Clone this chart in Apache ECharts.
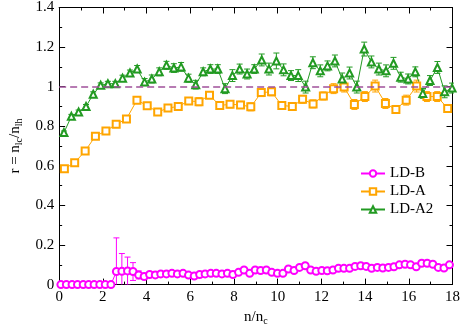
<!DOCTYPE html>
<html>
<head>
<meta charset="utf-8">
<script src="https://cdn.jsdelivr.net/npm/echarts@6/dist/echarts.min.js"></script>
<style>
  html, body { margin: 0; padding: 0; background: #fff; }
  #chart { width: 463px; height: 331px; }
</style>
</head>
<body>
<div id="chart"></div>
<script>
// LD-B (magenta circles)
const xB = [0.08, 0.33, 0.59, 0.84, 1.10, 1.35, 1.60, 1.86, 2.11, 2.37,
  2.62, 2.87, 3.13, 3.38, 3.64, 3.89, 4.14, 4.40, 4.65, 4.91,
  5.16, 5.41, 5.67, 5.92, 6.18, 6.43, 6.68, 6.94, 7.19, 7.45,
  7.70, 7.95, 8.21, 8.46, 8.72, 8.97, 9.22, 9.48, 9.73, 9.99,
  10.24, 10.49, 10.75, 11.00, 11.26, 11.51, 11.76, 12.02, 12.27, 12.53,
  12.78, 13.03, 13.29, 13.54, 13.80, 14.05, 14.30, 14.56, 14.81, 15.07,
  15.32, 15.57, 15.83, 16.08, 16.34, 16.59, 16.84, 17.10, 17.35, 17.61,
  17.86];
const yB = [0, 0, 0, 0, 0, 0, 0, 0, 0, 0,
  0.066, 0.067, 0.069, 0.066, 0.049, 0.041, 0.051, 0.049, 0.054, 0.054,
  0.057, 0.054, 0.057, 0.048, 0.043, 0.051, 0.054, 0.057, 0.057, 0.054,
  0.057, 0.051, 0.062, 0.074, 0.057, 0.074, 0.071, 0.074, 0.062, 0.057,
  0.057, 0.079, 0.071, 0.087, 0.095, 0.074, 0.067, 0.071, 0.070, 0.074,
  0.082, 0.082, 0.082, 0.092, 0.095, 0.092, 0.082, 0.087, 0.084, 0.087,
  0.090, 0.100, 0.103, 0.100, 0.090, 0.108, 0.108, 0.103, 0.087, 0.084,
  0.100];
const eB = [0, 0, 0, 0, 0, 0, 0, 0, 0, 0,
  0.17, 0.09, 0.07, 0.045, 0.02, 0.012, 0.005, 0.005, 0.005, 0.005,
  0.005, 0.005, 0.005, 0.005, 0.005, 0.005, 0.005, 0.005, 0.005, 0.005,
  0.005, 0.005, 0.005, 0.005, 0.005, 0.005, 0.005, 0.005, 0.005, 0.005,
  0.005, 0.005, 0.005, 0.005, 0.005, 0.005, 0.005, 0.005, 0.005, 0.005,
  0.005, 0.005, 0.005, 0.005, 0.005, 0.005, 0.005, 0.005, 0.005, 0.005,
  0.005, 0.005, 0.005, 0.005, 0.005, 0.012, 0.012, 0.01, 0.005, 0.005,
  0.005];

// LD-A (orange squares)
const xA = [0.24, 0.71, 1.19, 1.66, 2.14, 2.61, 3.08, 3.56, 4.03, 4.51,
  4.98, 5.45, 5.93, 6.40, 6.88, 7.35, 7.82, 8.30, 8.77, 9.25,
  9.72, 10.19, 10.67, 11.14, 11.62, 12.09, 12.56, 13.04, 13.51, 13.99,
  14.46, 14.93, 15.41, 15.88, 16.36, 16.83, 17.30, 17.78];
const yA = [0.585, 0.616, 0.675, 0.75, 0.776, 0.81, 0.837, 0.932, 0.904, 0.872,
  0.892, 0.90, 0.928, 0.924, 0.957, 0.905, 0.911, 0.908, 0.898, 0.970,
  0.974, 0.905, 0.90, 0.936, 0.913, 0.953, 0.99, 0.998, 0.91, 0.95,
  1.003, 0.915, 0.885, 0.932, 1.003, 0.95, 0.95, 0.89];
const eA = [0.005, 0.005, 0.005, 0.005, 0.006, 0.006, 0.008, 0.01, 0.01, 0.01,
  0.012, 0.012, 0.015, 0.02, 0.015, 0.015, 0.018, 0.018, 0.02, 0.02,
  0.02, 0.02, 0.02, 0.02, 0.02, 0.02, 0.025, 0.025, 0.025, 0.025,
  0.03, 0.025, 0.02, 0.025, 0.03, 0.025, 0.025, 0.02];

// LD-A2 (green triangles)
const xA2 = [0.22, 0.56, 0.89, 1.23, 1.56, 1.90, 2.23, 2.57, 2.90, 3.24,
  3.57, 3.91, 4.24, 4.58, 4.91, 5.25, 5.58, 5.92, 6.25, 6.59,
  6.92, 7.26, 7.59, 7.93, 8.26, 8.60, 8.93, 9.27, 9.60, 9.94,
  10.27, 10.61, 10.94, 11.28, 11.61, 11.95, 12.28, 12.62, 12.95, 13.29,
  13.62, 13.96, 14.29, 14.63, 14.96, 15.30, 15.63, 15.97, 16.30, 16.64,
  16.97, 17.31, 17.64, 17.98];
const yA2 = [0.768, 0.85, 0.872, 0.90, 0.962, 1.007, 1.015, 1.015, 1.043, 1.069,
  1.089, 1.023, 1.039, 1.075, 1.108, 1.094, 1.10, 1.043, 1.01, 1.075,
  1.089, 1.089, 0.99, 1.056, 1.089, 1.064, 1.089, 1.135, 1.089, 1.13,
  1.085, 1.056, 1.056, 0.998, 1.121, 1.08, 1.105, 1.13, 1.039, 1.069,
  0.998, 1.19, 1.125, 1.089, 1.08, 1.118, 1.048, 1.039, 1.075, 0.966,
  1.031, 1.097, 0.974, 0.993];
const eA2 = [0.008, 0.01, 0.01, 0.01, 0.012, 0.012, 0.012, 0.012, 0.015, 0.015,
  0.018, 0.018, 0.02, 0.02, 0.02, 0.022, 0.022, 0.02, 0.022, 0.02,
  0.022, 0.022, 0.025, 0.03, 0.025, 0.025, 0.022, 0.03, 0.03, 0.04,
  0.03, 0.025, 0.03, 0.03, 0.03, 0.03, 0.025, 0.03, 0.03, 0.03,
  0.03, 0.035, 0.03, 0.03, 0.03, 0.03, 0.025, 0.025, 0.025, 0.025,
  0.025, 0.03, 0.03, 0.025];

const xTicks = { min: 0, max: 18, interval: 2 };
const yTicks = { min: 0, max: 1.4, interval: 0.2 };

const cB = "#ff00ff";
const cA = "#ffa500";
const cA2 = "#229a22";
const font = "Liberation Serif";

const pts = (xs, ys) => xs.map((x, i) => [x, ys[i]]);
const bars = (xs, ys, es) => xs.map((x, i) => [x, ys[i] - es[i], ys[i] + es[i]]);

function errorSeries(data, color) {
  return {
    type: "custom",
    data: data,
    clip: true,
    silent: true,
    z: 1,
    encode: { x: 0, y: [1, 2] },
    renderItem: (params, api) => {
      const lo = api.coord([api.value(0), api.value(1)]);
      const hi = api.coord([api.value(0), api.value(2)]);
      const w = 3;
      const st = { stroke: color, lineWidth: 1 };
      return {
        type: "group",
        children: [
          { type: "line", shape: { x1: lo[0], y1: lo[1], x2: hi[0], y2: hi[1] }, style: st },
          { type: "line", shape: { x1: lo[0] - w, y1: lo[1], x2: lo[0] + w, y2: lo[1] }, style: st },
          { type: "line", shape: { x1: hi[0] - w, y1: hi[1], x2: hi[0] + w, y2: hi[1] }, style: st },
        ],
      };
    },
  };
}

function lineSeries(name, data, color, symbol, size) {
  return {
    name: name,
    type: "line",
    data: data,
    symbol: symbol,
    symbolSize: size,
    showAllSymbol: true,
    z: 3,
    lineStyle: { color: color, width: 1 },
    itemStyle: { color: color, borderWidth: 1 },
  };
}

const tickAxis = (pos, labels) => ({
  position: pos,
  axisLine: { show: true, onZero: false, lineStyle: { color: "#000", width: 1 } },
  axisTick: { show: true, inside: true, length: 6, lineStyle: { color: "#000" } },
  minorTick: { show: true, splitNumber: 2, length: 3, lineStyle: { color: "#000" } },
  splitLine: { show: false },
  axisLabel: {
    show: labels,
    color: "#000",
    fontSize: 15,
    fontFamily: font,
    margin: 5,
  },
});

const chart = echarts.init(document.getElementById("chart"));

const lineB = lineSeries("LD-B", pts(xB, yB), cB, "emptyCircle", 7);
const lineA = lineSeries("LD-A", pts(xA, yA), cA, "emptyRect", 7);
const lineA2 = lineSeries("LD-A2", pts(xA2, yA2), cA2, "emptyTriangle", 7);

lineA2.markLine = {
  silent: true,
  symbol: ["none", "none"],
  label: { show: false },
  lineStyle: { color: "#a0509a", type: [7, 4], width: 1.5 },
  data: [{ yAxis: 1 }],
};

chart.setOption({
  animation: false,
  backgroundColor: "#fff",
  grid: { left: 48, right: 10, top: 7, bottom: 40 },
  legend: {
    data: ["LD-B", "LD-A", "LD-A2"],
    orient: "vertical",
    left: 355,
    top: 161,
    itemWidth: 24,
    itemHeight: 8,
    itemGap: 3,
    textStyle: { fontFamily: font, fontSize: 15, color: "#000" },
  },
  xAxis: [
    Object.assign({
      type: "value",
      ...xTicks,
      name: "{a|n/n}{s|c}",
      nameLocation: "middle",
      nameGap: 22,
      nameTextStyle: {
        rich: {
          a: { fontFamily: font, fontSize: 15, color: "#000", lineHeight: 18 },
          s: { fontFamily: font, fontSize: 10, color: "#000", lineHeight: 10, verticalAlign: "bottom" },
        },
      },
    }, tickAxis("bottom", true)),
    Object.assign({ type: "value", ...xTicks }, tickAxis("top", false)),
  ],
  yAxis: [
    Object.assign({
      type: "value",
      ...yTicks,
      name: "{a|r = n}{s|lc}{a|/n}{s|lh}",
      nameLocation: "middle",
      nameRotate: 90,
      nameGap: 31,
      nameTextStyle: {
        rich: {
          a: { fontFamily: font, fontSize: 15, color: "#000", lineHeight: 18 },
          s: { fontFamily: font, fontSize: 10, color: "#000", lineHeight: 10, verticalAlign: "bottom" },
        },
      },
    }, tickAxis("left", true)),
    Object.assign({ type: "value", ...yTicks }, tickAxis("right", false)),
  ],
  series: [
    errorSeries(bars(xB, yB, eB), cB),
    errorSeries(bars(xA, yA, eA), cA),
    errorSeries(bars(xA2, yA2, eA2), cA2),
    lineB,
    lineA,
    lineA2,
  ],
});
</script>
</body>
</html>
